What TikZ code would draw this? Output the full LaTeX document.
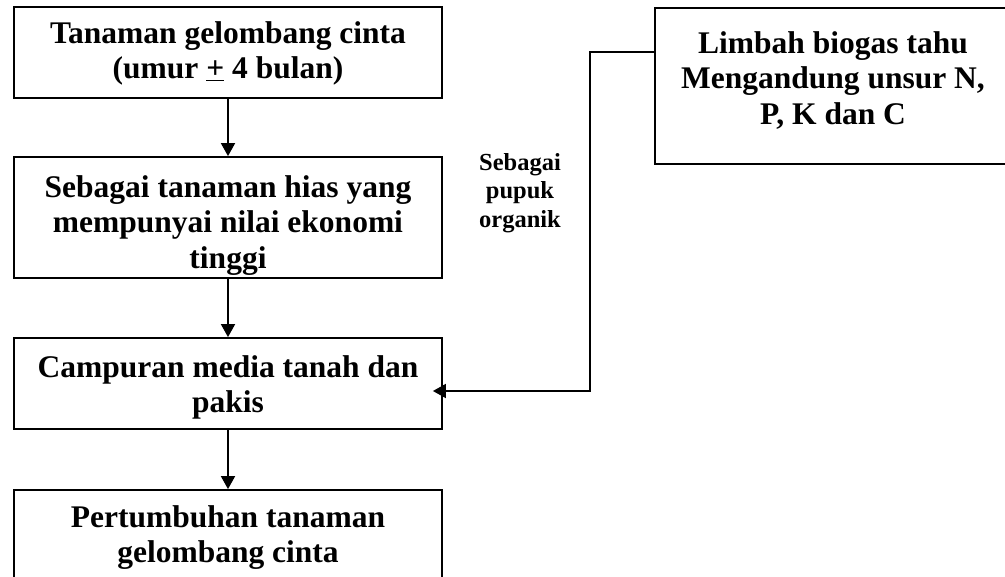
\documentclass[tikz,border=0pt]{standalone}
\usepackage{fontspec}
\setmainfont{Liberation Serif}
\usetikzlibrary{arrows.meta}
\begin{document}
\begin{tikzpicture}[x=1pt,y=-1pt,
  box/.style={draw, line width=1.8pt, inner sep=0pt, minimum width=428pt},
  txt/.style={inner sep=0pt, align=center, font=\bfseries\fontsize{31.5}{35.4}\selectfont, anchor=north},
  lbl/.style={inner sep=0pt, align=center, font=\bfseries\fontsize{24.5}{28.5}\selectfont, anchor=north},
  conn/.style={line width=1.8pt, -{Triangle[length=13pt,width=14pt]}}]
\useasboundingbox (0,0) rectangle (1005,577);
% boxes
\node[box, minimum height=91pt]  (b1) at (228,52.5) {};
\node[box, minimum height=121pt] (b2) at (228,217.5) {};
\node[box, minimum height=91pt]  (b3) at (228,383.5) {};
\node[box, minimum height=91pt]  (b4) at (228,535.5) {};
\node[box, minimum width=356pt, minimum height=156pt] (br) at (833,86) {};
% texts
\node[txt] (t1) at (228,21.5) {Tanaman gelombang cinta\\(umur \underline{+} 4 bulan)};
\node[txt] (t2) at (228,175.5) {Sebagai tanaman hias yang\\mempunyai nilai ekonomi\\tinggi};
\node[txt] (t3) at (228,355.5) {Campuran media tanah dan\\pakis};
\node[txt] (t4) at (228,505.5) {Pertumbuhan tanaman\\gelombang cinta};
\node[txt] (tr) at (833,31.5) {Limbah biogas tahu\\Mengandung unsur N,\\P, K dan C};
\node[lbl] (lab) at (520,153) {Sebagai\\pupuk\\organik};
% connectors
\draw[conn] (b1) -- (b2);
\draw[conn] (b2) -- (b3);
\draw[conn] (b3) -- (b4);
\coordinate (c1) at (590,52);
\coordinate (c2) at (590,391);
\draw[conn, shorten >=-10pt] (br.west |- c1) -- (c1) -- (c2) -- (b3.east |- c2);
\end{tikzpicture}
\end{document}
